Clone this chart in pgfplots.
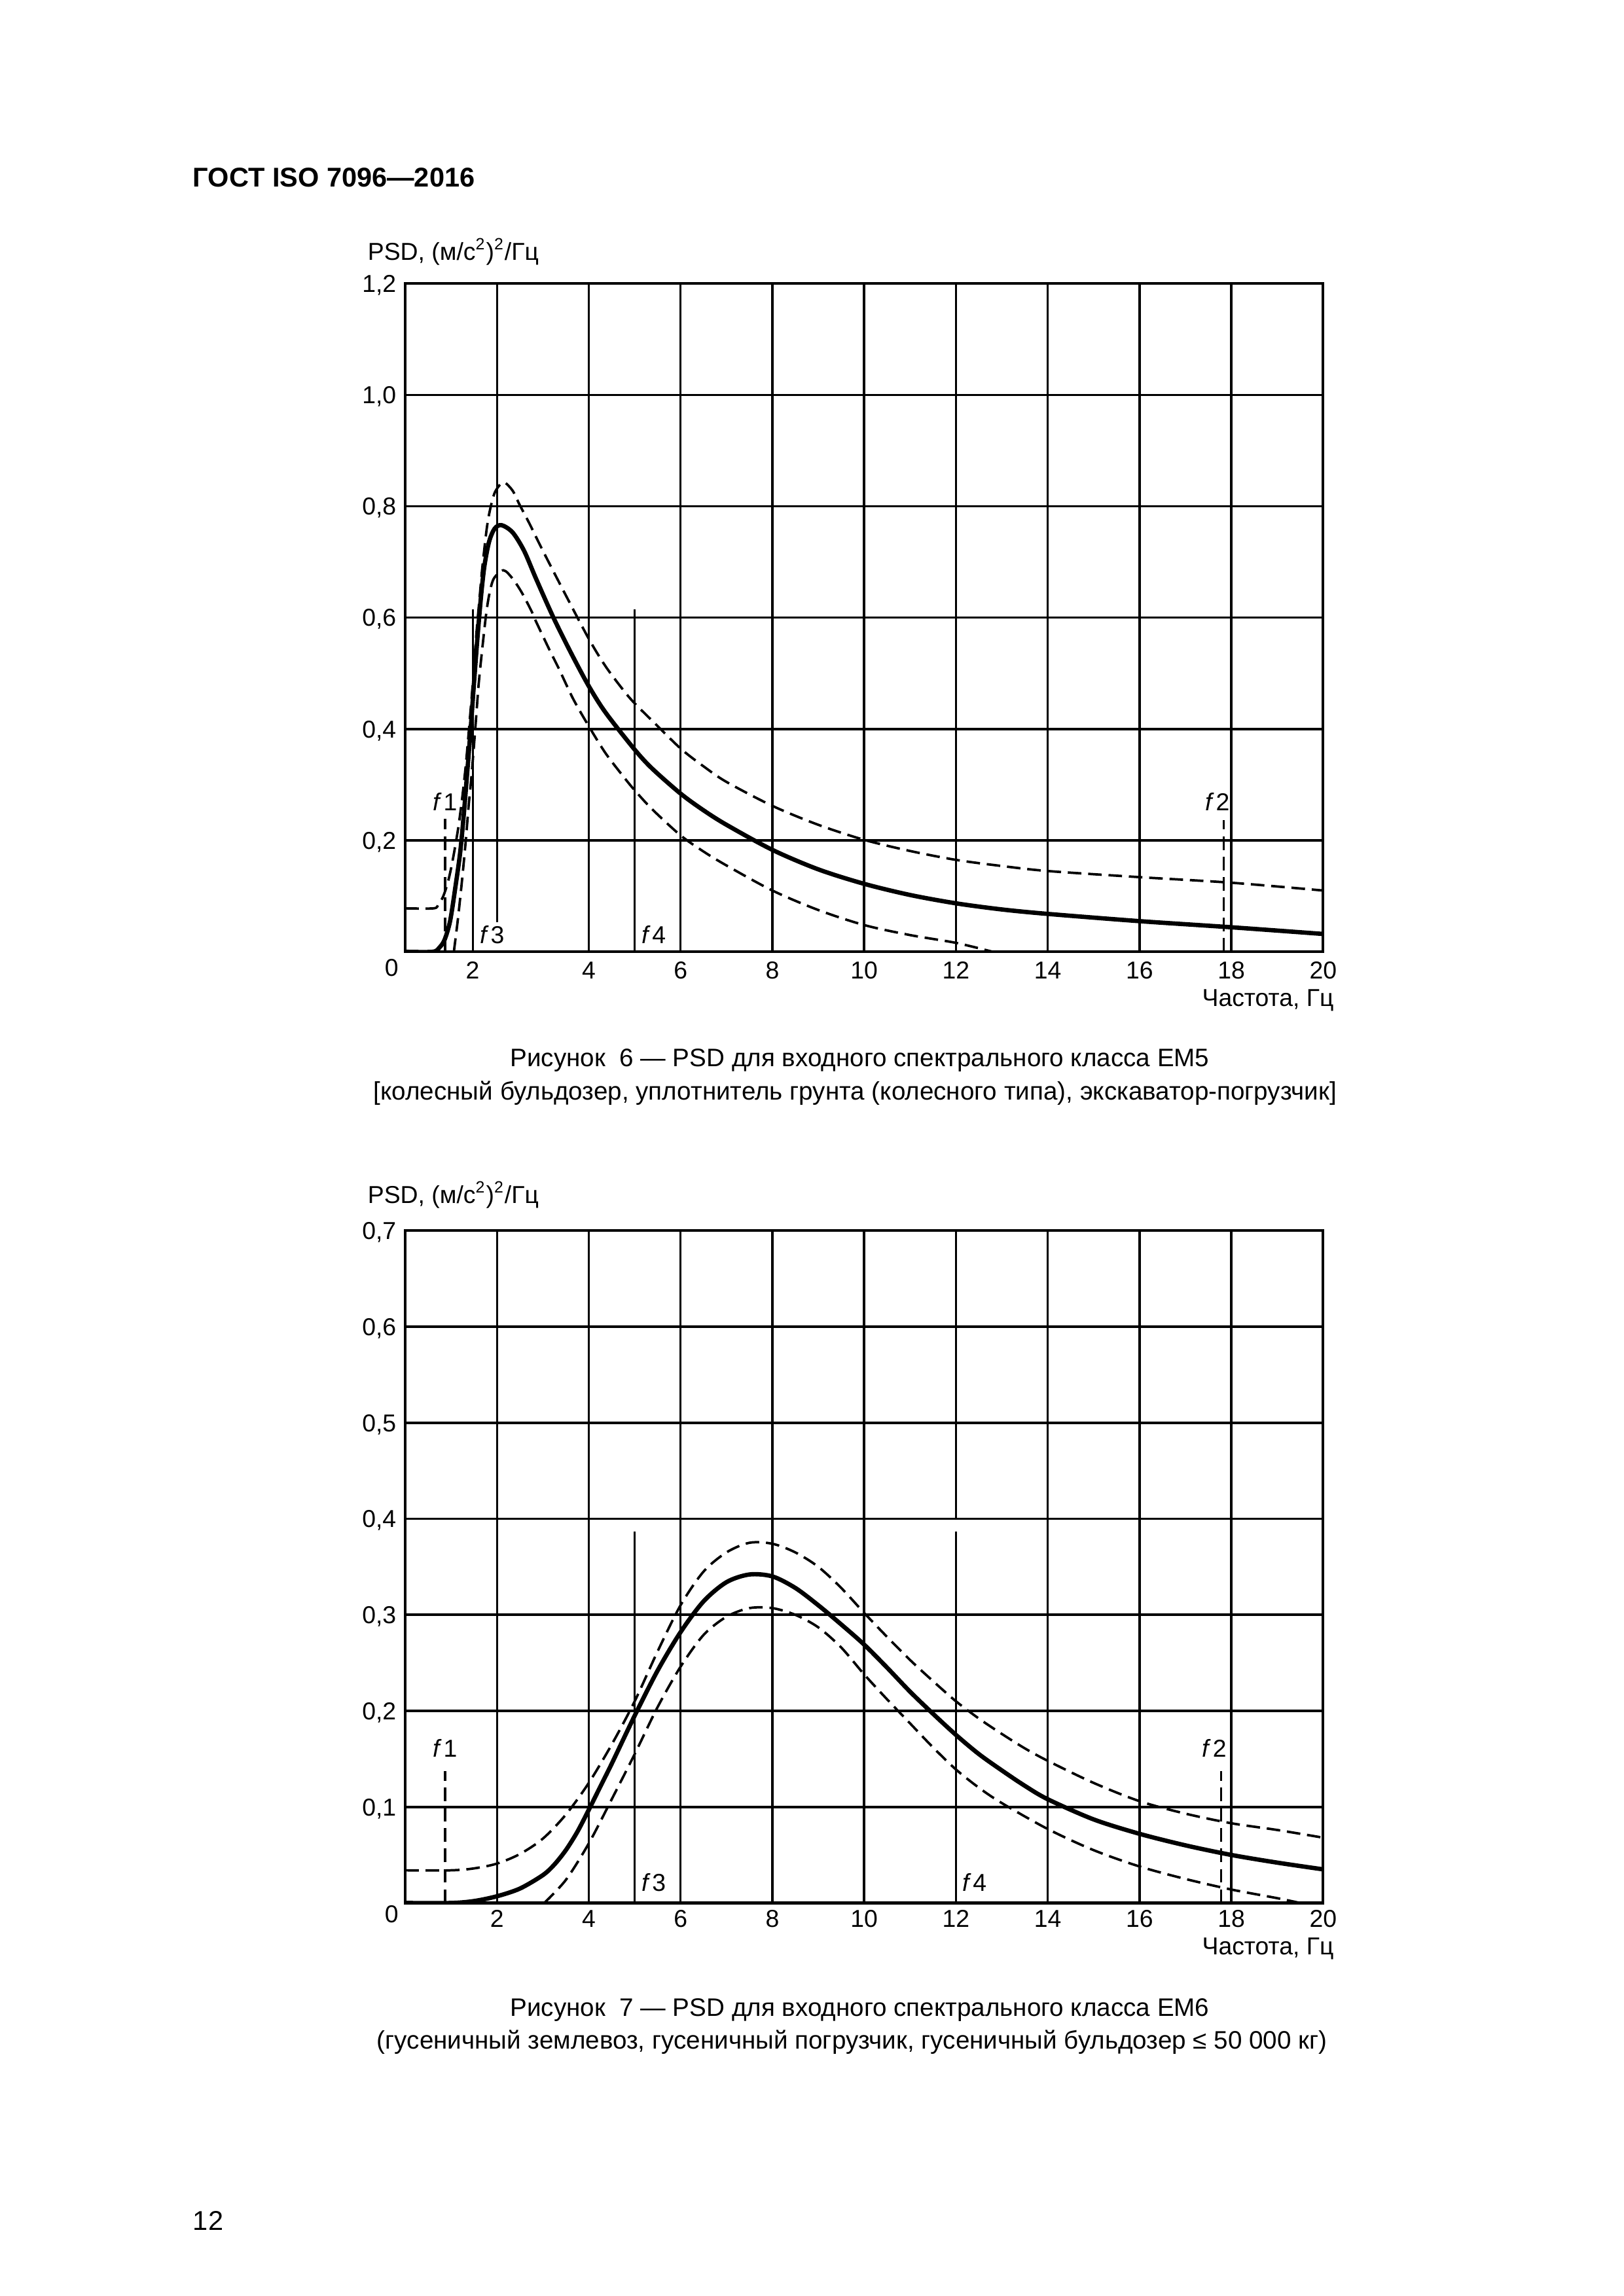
\documentclass[border=0pt]{standalone}
\usepackage{fontspec}
\setmainfont{Liberation Sans}
\usepackage{pgfplots}
\pgfplotsset{compat=1.18}
\pgfplotsset{
 psd/.style={scale only axis, width=118.72mm, xmin=0, xmax=20, ymin=0,
   axis line style={line width=1.0pt}, major tick length=0pt,
   ymajorgrids, grid style={line width=0.85pt, black},
   tick label style={font=\fontsize{9}{11}\selectfont},
   yticklabel style={anchor=base east, inner sep=0pt, xshift=-1.1mm, yshift=-3.2pt},
   xticklabel style={anchor=base, inner sep=0pt},
   xtick={2,4,6,8,10,12,14,16,18,20},
   xticklabels={2,4,6,8,10,12,14,16,18,20}},
}
\tikzset{
 main/.style={black, line width=1.6pt, smooth, tension=0.5},
 lim/.style={black, line width=0.9pt, dash pattern=on 5pt off 2.5pt, smooth, tension=0.5},
 gl/.style={black, line width=0.85pt},
 fl/.style={black, line width=0.75pt},
 fd/.style={black, line width=0.8pt, dash pattern=on 5pt off 2.5pt},
 flab/.style={font=\fontsize{9}{11}\selectfont, inner sep=0pt},
}
\newcommand{\lab}{\fontsize{9}{11}\selectfont}
\newcommand{\capf}{\fontsize{9.3}{11}\selectfont}
\newcommand{\fq}[1]{\textit{f}\kern0.6pt#1}
\begin{document}
\begin{tikzpicture}
\useasboundingbox (0,0) rectangle (210mm,297mm);
\node[anchor=base west, inner sep=0pt, font=\bfseries\fontsize{10}{12}\selectfont] at (24.9mm,272.83mm) {ГОСТ ISO 7096—2016};
% ---------- Figure 6 ----------
\begin{axis}[psd, at={(52.41mm,173.88mm)}, anchor=south west, height=86.45mm,
  ymax=1.2, ytick={0.2,0.4,0.6,0.8,1.0,1.2},
  yticklabels={{0,2},{0,4},{0,6},{0,8},{1,0},{1,2}},
  xtick={1.47,4,6,8,10,12,14,16,18,20},
  xticklabel style={yshift=-3.47mm}]
\addplot[gl] coordinates {(2,0.053)(2,1.2)};
\addplot[gl] coordinates {(4,0)(4,1.2)};
\addplot[gl] coordinates {(6,0)(6,1.2)};
\addplot[gl] coordinates {(8,0)(8,1.2)};
\addplot[gl] coordinates {(10,0)(10,1.2)};
\addplot[gl] coordinates {(12,0)(12,1.2)};
\addplot[gl] coordinates {(14,0)(14,1.2)};
\addplot[gl] coordinates {(16,0)(16,1.2)};
\addplot[gl] coordinates {(18,0)(18,1.2)};
\addplot[fl] coordinates {(1.48,0)(1.48,0.615)};
\addplot[fl] coordinates {(5,0)(5,0.615)};
\addplot[fd] coordinates {(0.87,0)(0.87,0.239)};
\addplot[fd] coordinates {(17.83,0)(17.83,0.237)};
% main
\addplot[main] coordinates {(0,0)(0.6,0)(0.75,0.008)(0.86,0.022)(0.98,0.056)(1.1,0.12)(1.2,0.18)(1.28,0.25)(1.35,0.321)(1.43,0.404)(1.5,0.484)(1.58,0.57)(1.66,0.645)(1.73,0.695)(1.83,0.737)(1.95,0.76)(2.1,0.766)(2.34,0.753)(2.59,0.72)(2.85,0.67)(3.23,0.6)(3.61,0.537)(4.0,0.477)(4.37,0.429)(5.0,0.363)(5.38,0.329)(6.0,0.284)(6.5,0.254)(7.0,0.228)(8.0,0.183)(9.0,0.148)(10,0.122)(11,0.102)(12,0.087)(13,0.076)(14,0.068)(16,0.055)(18,0.044)(20,0.032)};
% upper
\addplot[lim] coordinates {(0,0.078)(0.62,0.078)(0.72,0.085)(0.82,0.098)(0.92,0.122)(1.0,0.15)(1.08,0.185)(1.16,0.225)(1.24,0.275)(1.32,0.335)(1.4,0.41)(1.48,0.49)(1.55,0.57)(1.62,0.635)(1.68,0.69)(1.78,0.762)(1.86,0.798)(1.96,0.826)(2.14,0.843)(2.34,0.828)(2.49,0.803)(2.7,0.77)(3.0,0.72)(3.5,0.64)(4.0,0.562)(4.37,0.512)(4.77,0.468)(5.0,0.446)(5.38,0.415)(6.0,0.365)(6.5,0.333)(7.0,0.305)(8.0,0.262)(9,0.228)(10,0.201)(11,0.181)(12,0.165)(13,0.154)(14,0.145)(16,0.134)(18,0.124)(20,0.11)};
% lower
\addplot[lim] coordinates {(1.06,0)(1.15,0.06)(1.24,0.13)(1.32,0.2)(1.38,0.26)(1.45,0.321)(1.53,0.404)(1.6,0.48)(1.68,0.545)(1.76,0.604)(1.83,0.641)(1.93,0.67)(2.14,0.685)(2.34,0.67)(2.54,0.645)(2.75,0.612)(2.85,0.593)(3.15,0.541)(3.35,0.508)(3.66,0.454)(4.0,0.405)(4.37,0.356)(4.77,0.313)(5.0,0.29)(5.38,0.256)(6.0,0.209)(6.5,0.18)(7.0,0.155)(8.0,0.11)(9,0.075)(10,0.048)(11,0.03)(12,0.016)(12.8,0)};
\node[flab, anchor=base] at (axis cs:0.87,0.254) {\fq{1}};
\node[flab, anchor=base] at (axis cs:17.7,0.253) {\fq{2}};
\node[flab, anchor=base west] at (axis cs:1.62,0.015) {\fq{3}};
\node[flab, anchor=base west] at (axis cs:5.14,0.015) {\fq{4}};
\end{axis}
\node[anchor=base, inner sep=0pt, font=\lab] at (50.64mm,170.71mm) {0};
\node[anchor=base west, inner sep=0pt, font=\lab] at (47.5mm,263.35mm) {PSD, (м/с\textsuperscript{2})\textsuperscript{2}/Гц};
\node[anchor=base east, inner sep=0pt, font=\lab] at (172.57mm,166.82mm) {Частота, Гц};
\node[anchor=base, inner sep=0pt, font=\capf] at (111.2mm,159.02mm) {Рисунок~~6 — PSD для входного спектрального класса EM5};
\node[anchor=base, inner sep=0pt, font=\capf] at (110.6mm,154.71mm) {[колесный бульдозер, уплотнитель грунта (колесного типа), экскаватор-погрузчик]};
% ---------- Figure 7 ----------
\begin{axis}[psd, at={(52.41mm,50.84mm)}, anchor=south west, height=86.97mm,
  ymax=0.7, ytick={0.1,0.2,0.3,0.4,0.5,0.6,0.7},
  yticklabels={{0,1},{0,2},{0,3},{0,4},{0,5},{0,6},{0,7}},
  xticklabel style={yshift=-3.13mm}]
\addplot[gl] coordinates {(2,0)(2,0.7)};
\addplot[gl] coordinates {(4,0)(4,0.7)};
\addplot[gl] coordinates {(6,0)(6,0.7)};
\addplot[gl] coordinates {(8,0)(8,0.7)};
\addplot[gl] coordinates {(10,0)(10,0.7)};
\addplot[gl] coordinates {(12,0.4)(12,0.7)};
\addplot[gl] coordinates {(14,0)(14,0.7)};
\addplot[gl] coordinates {(16,0)(16,0.7)};
\addplot[gl] coordinates {(18,0)(18,0.7)};
\addplot[fl] coordinates {(5,0)(5,0.387)};
\addplot[fl] coordinates {(12,0)(12,0.387)};
\addplot[fd] coordinates {(0.87,0)(0.87,0.1375)};
\addplot[fd] coordinates {(17.78,0)(17.78,0.1375)};
\addplot[main] coordinates {(0,0)(1.0,0)(1.5,0.002)(2.0,0.007)(2.5,0.015)(3.0,0.029)(3.25,0.04)(3.5,0.055)(3.75,0.074)(4.0,0.097)(4.25,0.121)(4.5,0.145)(5.0,0.195)(5.5,0.242)(6.0,0.282)(6.5,0.314)(7.0,0.334)(7.5,0.342)(8.0,0.34)(8.5,0.328)(9.0,0.31)(9.5,0.29)(10.0,0.269)(10.5,0.245)(11.0,0.22)(11.5,0.197)(12.0,0.175)(12.5,0.155)(13.0,0.138)(13.5,0.122)(14.0,0.108)(15.0,0.087)(16.0,0.072)(17.0,0.06)(18.0,0.05)(19.0,0.042)(20.0,0.035)};
\addplot[lim] coordinates {(0,0.034)(1.0,0.034)(1.5,0.036)(2.0,0.041)(2.5,0.051)(3.0,0.067)(3.5,0.092)(4.0,0.125)(4.5,0.165)(5.0,0.21)(5.5,0.262)(6.0,0.31)(6.5,0.345)(7.0,0.365)(7.5,0.375)(8.0,0.374)(8.5,0.365)(9.0,0.35)(9.5,0.328)(10.0,0.302)(10.5,0.277)(11.0,0.253)(11.5,0.231)(12.0,0.21)(12.5,0.192)(13.0,0.176)(13.5,0.161)(14.0,0.148)(15.0,0.125)(16.0,0.106)(17.0,0.093)(18.0,0.083)(19.0,0.076)(20.0,0.068)};
\addplot[lim] coordinates {(3.03,0)(3.5,0.024)(4.0,0.062)(4.5,0.108)(5.0,0.155)(5.5,0.204)(6.0,0.246)(6.5,0.279)(7.0,0.298)(7.5,0.307)(8.0,0.307)(8.5,0.3)(9.0,0.287)(9.5,0.266)(10.0,0.238)(10.5,0.212)(11.0,0.187)(11.5,0.162)(12.0,0.139)(12.5,0.12)(13.0,0.104)(14.0,0.077)(15.0,0.055)(16.0,0.038)(17.0,0.025)(18.0,0.014)(19.0,0.005)(19.5,0)};
\node[flab, anchor=base] at (axis cs:0.87,0.152) {\fq{1}};
\node[flab, anchor=base] at (axis cs:17.63,0.152) {\fq{2}};
\node[flab, anchor=base west] at (axis cs:5.14,0.012) {\fq{3}};
\node[flab, anchor=base west] at (axis cs:12.13,0.012) {\fq{4}};
\end{axis}
\node[anchor=base, inner sep=0pt, font=\lab] at (50.64mm,48.27mm) {0};
\node[anchor=base west, inner sep=0pt, font=\lab] at (47.5mm,141.33mm) {PSD, (м/с\textsuperscript{2})\textsuperscript{2}/Гц};
\node[anchor=base east, inner sep=0pt, font=\lab] at (172.57mm,44.12mm) {Частота, Гц};
\node[anchor=base, inner sep=0pt, font=\capf] at (111.2mm,36.16mm) {Рисунок~~7 — PSD для входного спектрального класса EM6};
\node[anchor=base, inner sep=0pt, font=\capf] at (110.2mm,31.92mm) {(гусеничный землевоз, гусеничный погрузчик, гусеничный бульдозер ≤ 50 000 кг)};
\node[anchor=base west, inner sep=0pt, font=\fontsize{10}{12}\selectfont] at (24.9mm,8.47mm) {12};
\end{tikzpicture}
\end{document}
